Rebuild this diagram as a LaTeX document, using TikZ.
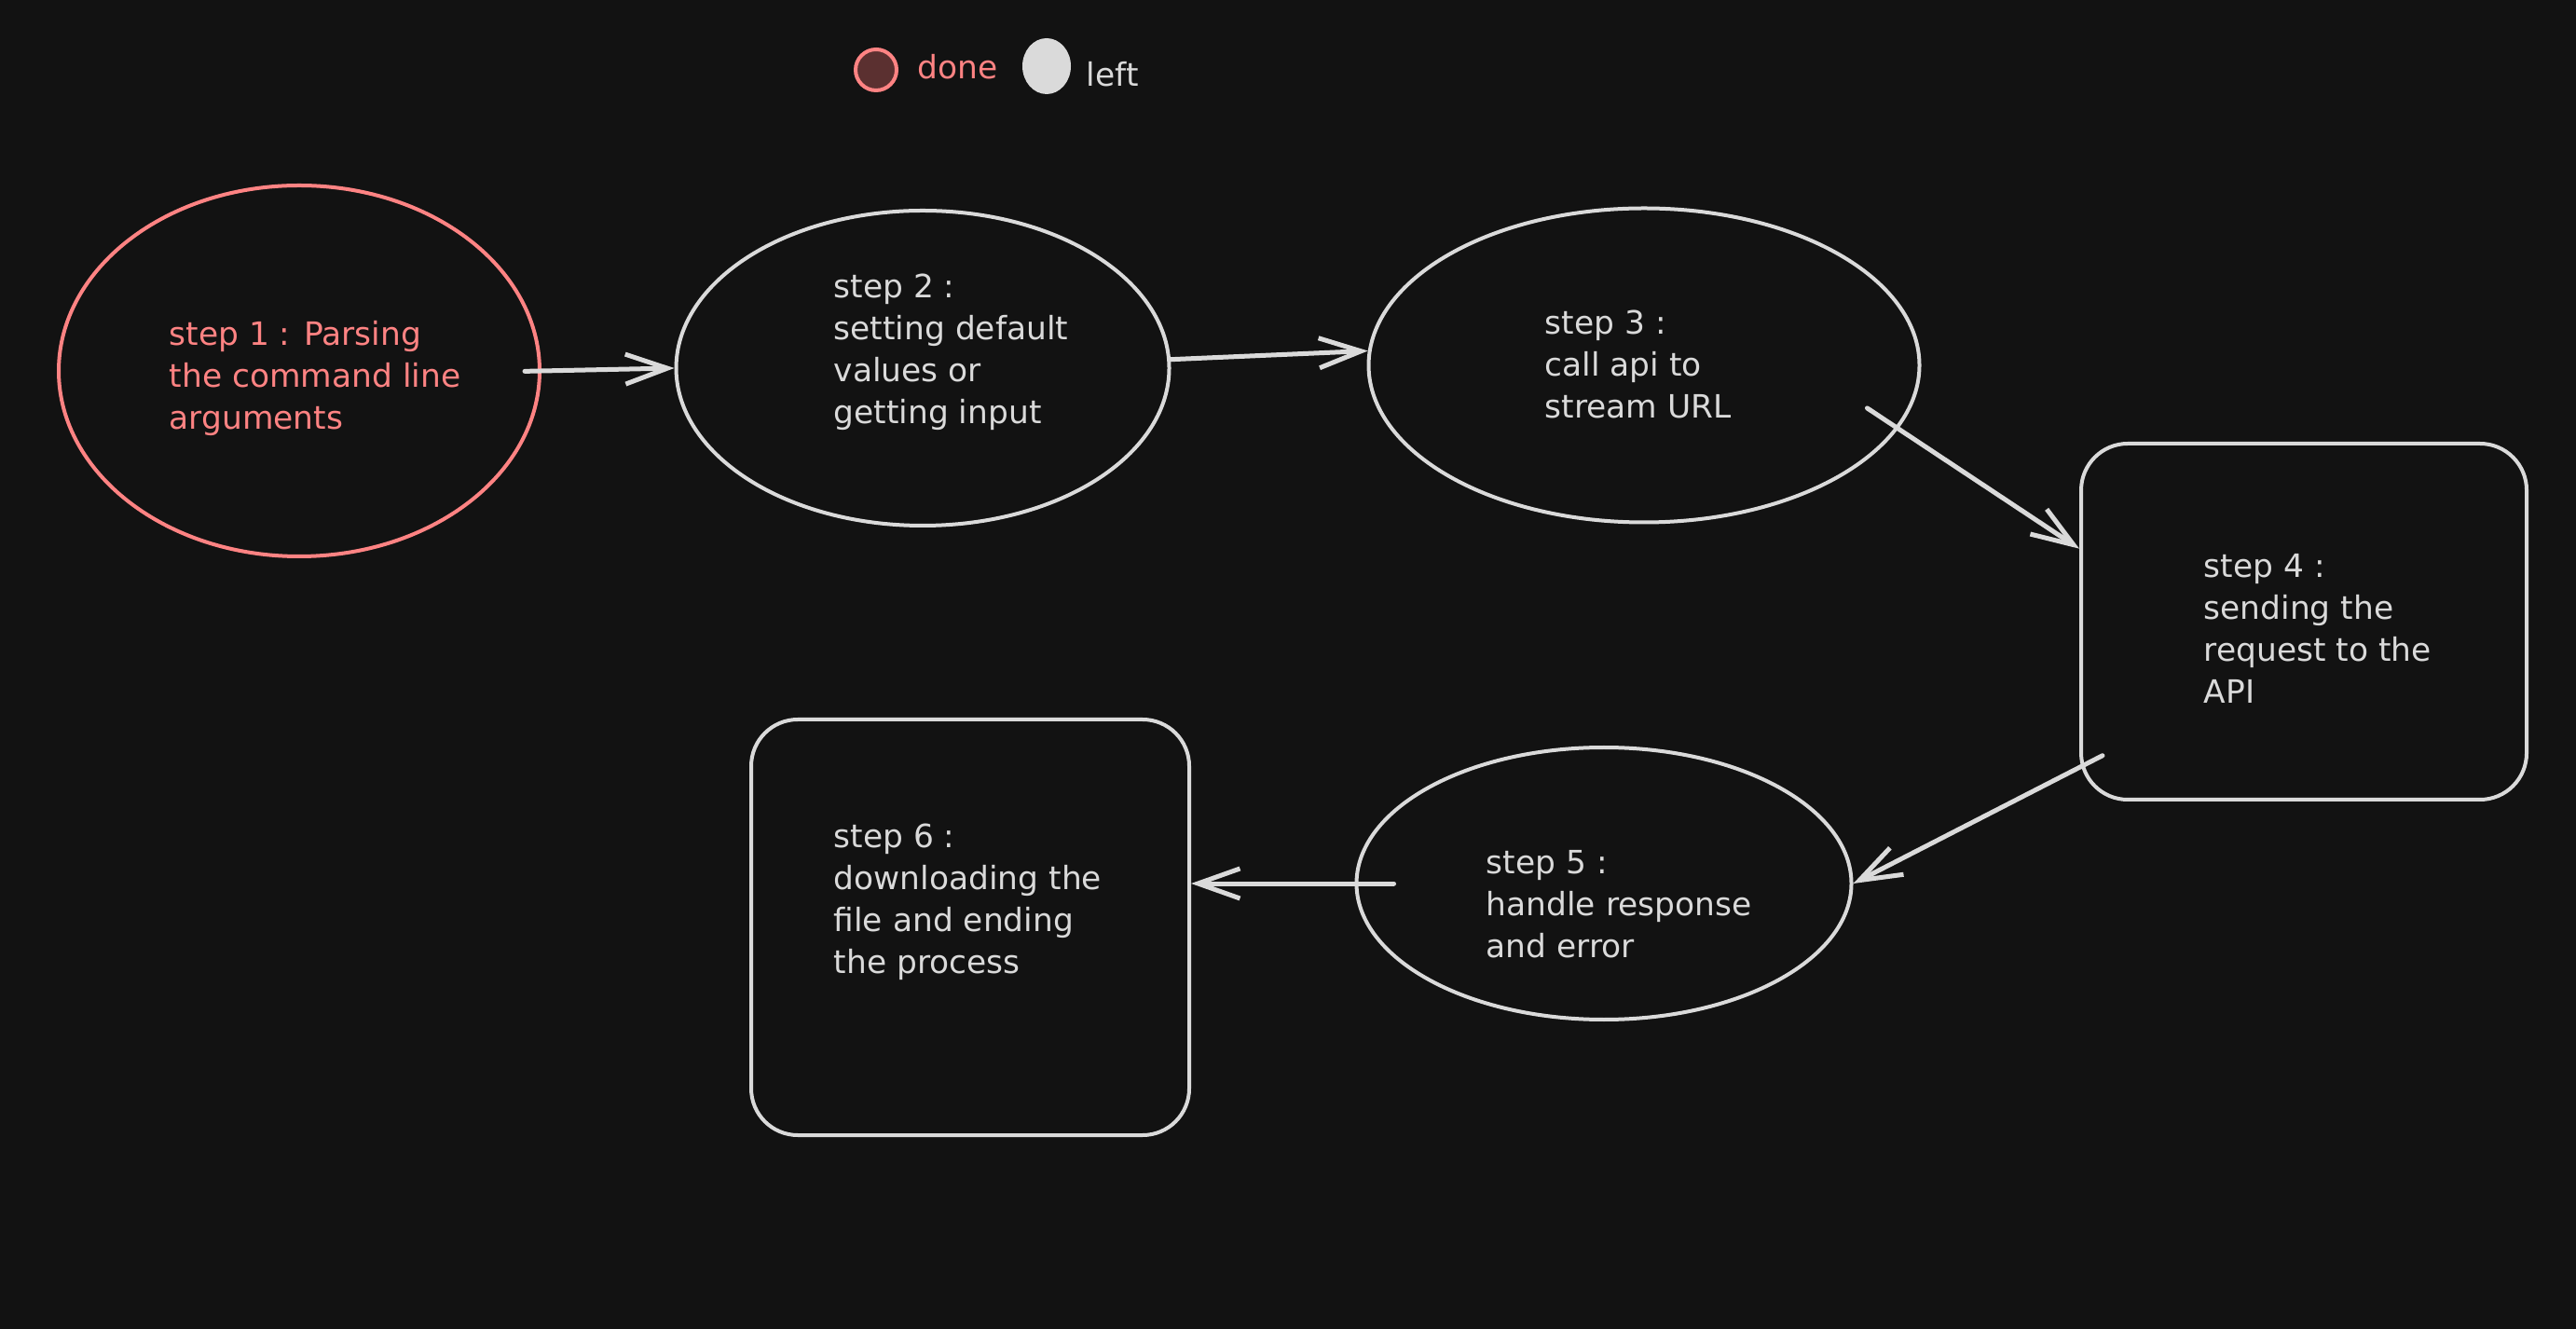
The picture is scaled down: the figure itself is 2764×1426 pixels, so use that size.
\documentclass[tikz,border=0pt]{standalone}
\usepackage{fontspec}
\setmainfont{DejaVu Sans}
\usetikzlibrary{shapes.geometric,arrows.meta}
\definecolor{fond}{HTML}{121212}
\definecolor{saumon}{HTML}{FF8383}
\definecolor{saumonfonce}{HTML}{5B3030}
\definecolor{craie}{HTML}{DADADA}

\begin{document}
\begin{tikzpicture}[x=0.1mm,y=-0.1mm]
    %%%%%%%%%%%%%%%%%%%%%%%%%%%%%%%%%%%%%% Fond
    \fill[fond] (0,0) rectangle (2764,1426);
    \useasboundingbox (0,0) rectangle (2764,1426);

    \tikzstyle{texte}=[font=\fontsize{9.8pt}{12.8pt}\selectfont,align=left,inner sep=0pt,text=craie]
    \tikzstyle{bulle}=[ellipse,draw=craie,line width=0.4mm,inner sep=0pt]
    \tikzstyle{boite}=[rectangle,rounded corners=5mm,draw=craie,line width=0.4mm,inner sep=0pt]
    \tikzstyle{fleche}=[-{Straight Barb[length=4.5mm,width=3.2mm]},craie,line width=0.5mm,line cap=round]

    %%%%%%%%%%%%%%%%%%%%%%%%%%%%%%%%%%%%%% Legende
    \node[circle,draw=saumon,fill=saumonfonce,line width=0.4mm,minimum size=4.4mm,inner sep=0pt] (fait) at (940,75) {};
    \node[texte,text=saumon,anchor=west] (faitlbl) at (984,72) {done};
    \node[ellipse,fill=craie,minimum width=5.2mm,minimum height=6mm,inner sep=0pt] (reste) at (1123,71) {};
    \node[texte,anchor=west] (restelbl) at (1165,80) {left};

    %%%%%%%%%%%%%%%%%%%%%%%%%%%%%%%%%%%%%% Etapes
    \node[bulle,draw=saumon,minimum width=51.6mm,minimum height=39.8mm] (e1) at (321,398) {};
    \node[texte,text=saumon,anchor=west] (t1) at (181,406) {step 1 : Parsing\\the command line\\arguments};

    \node[bulle,minimum width=52.9mm,minimum height=33.8mm] (e2) at (990,395) {};
    \node[texte,anchor=west] (t2) at (894,378) {step 2 :\\setting default\\values or\\getting input};

    \node[bulle,minimum width=59.1mm,minimum height=33.7mm] (e3) at (1764,392) {};
    \node[texte,anchor=west] (t3) at (1657,391) {step 3 :\\call api to\\stream URL};

    \node[boite,minimum width=47.8mm,minimum height=38.2mm] (e4) at (2472,667) {};
    \node[texte,anchor=west] (t4) at (2364,674) {step 4 :\\sending the\\request to the\\API};

    \node[bulle,minimum width=53.1mm,minimum height=29.2mm] (e5) at (1721,948) {};
    \node[texte,anchor=west] (t5) at (1594,970) {step 5 :\\handle response\\and error};

    \node[boite,minimum width=47mm,minimum height=44.6mm] (e6) at (1041,995) {};
    \node[texte,anchor=west] (t6) at (894,968) {step 6 :\\downloading the\\file and ending\\the process};

    %%%%%%%%%%%%%%%%%%%%%%%%%%%%%%%%%%%%%% Fleches
    \draw[fleche,shorten <=-1.8mm] (e1.east) -- (e2.west);
    \draw[fleche] (e2.2) -- (e3.177);
    \draw[fleche,shorten <=-4mm] (e3.-14) -- (e4.162);
    \draw[fleche,shorten <=-2.8mm] (e4.213) -- (e5.east);
    \draw[fleche,shorten <=-4.2mm] (e5.west) -- (e6.east |- e5.west);
\end{tikzpicture}
\end{document}
